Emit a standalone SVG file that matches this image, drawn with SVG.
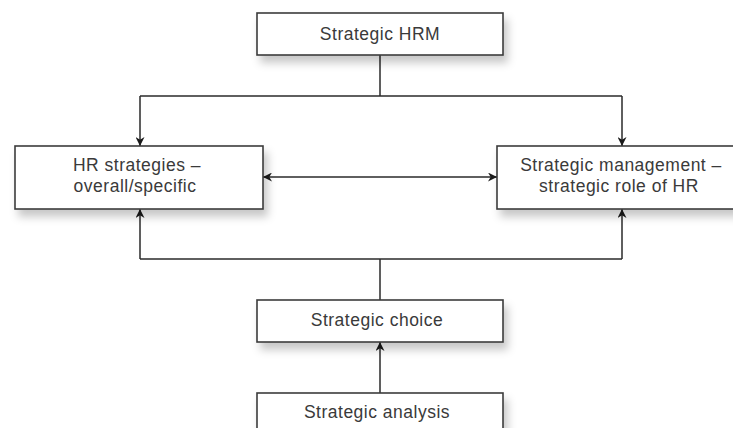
<svg xmlns="http://www.w3.org/2000/svg" width="733" height="428" viewBox="0 0 733 428">
<style>
.box{fill:#fff;stroke:#3c3c3c;stroke-width:1.6;filter:url(#sh)}
.t{font-family:"Liberation Sans",Arial,sans-serif;font-size:17.5px;letter-spacing:0.5px;fill:#3a3a3a;text-anchor:middle}
.c{fill:none;stroke:#2a2a2a;stroke-width:1.5}
</style>
<defs>
<filter id="sh" x="-10%" y="-30%" width="125%" height="180%">
<feDropShadow dx="4" dy="7" stdDeviation="4" flood-color="#000" flood-opacity="0.22"/>
</filter>
<marker id="ah" viewBox="0 0 10 10" refX="10" refY="5" markerWidth="9" markerHeight="9" markerUnits="userSpaceOnUse" orient="auto-start-reverse">
<path d="M0,0 L10,5 L0,10 L3,5 Z" fill="#1a1a1a"/>
</marker>
</defs>
<g id="connectors">
<path class="c" d="M380,55 V96"/>
<path class="c" d="M140,96 H622"/>
<path class="c" d="M140,96 V146" marker-end="url(#ah)"/>
<path class="c" d="M622,96 V146" marker-end="url(#ah)"/>
<path class="c" d="M263,177 H497" marker-start="url(#ah)" marker-end="url(#ah)"/>
<path class="c" d="M380,300 V259"/>
<path class="c" d="M140,259 H622"/>
<path class="c" d="M140,259 V209" marker-end="url(#ah)"/>
<path class="c" d="M622,259 V209" marker-end="url(#ah)"/>
<path class="c" d="M380,393 V342" marker-end="url(#ah)"/>
</g>
<g id="strategic-hrm">
<rect class="box" x="257" y="13" width="246" height="42"/>
<text class="t" x="380" y="40">Strategic HRM</text>
</g>
<g id="hr-strategies">
<rect class="box" x="15" y="146" width="248" height="63"/>
<text class="t" x="137" y="171">HR strategies –</text>
<text class="t" x="135" y="192">overall/specific</text>
</g>
<g id="strategic-management">
<rect class="box" x="497" y="146" width="250" height="63"/>
<text class="t" x="621" y="171">Strategic management –</text>
<text class="t" x="619" y="192">strategic role of HR</text>
</g>
<g id="strategic-choice">
<rect class="box" x="257" y="300" width="246" height="42"/>
<text class="t" x="377" y="326">Strategic choice</text>
</g>
<g id="strategic-analysis">
<rect class="box" x="257" y="393" width="246" height="45"/>
<text class="t" x="377" y="418">Strategic analysis</text>
</g>
</svg>
